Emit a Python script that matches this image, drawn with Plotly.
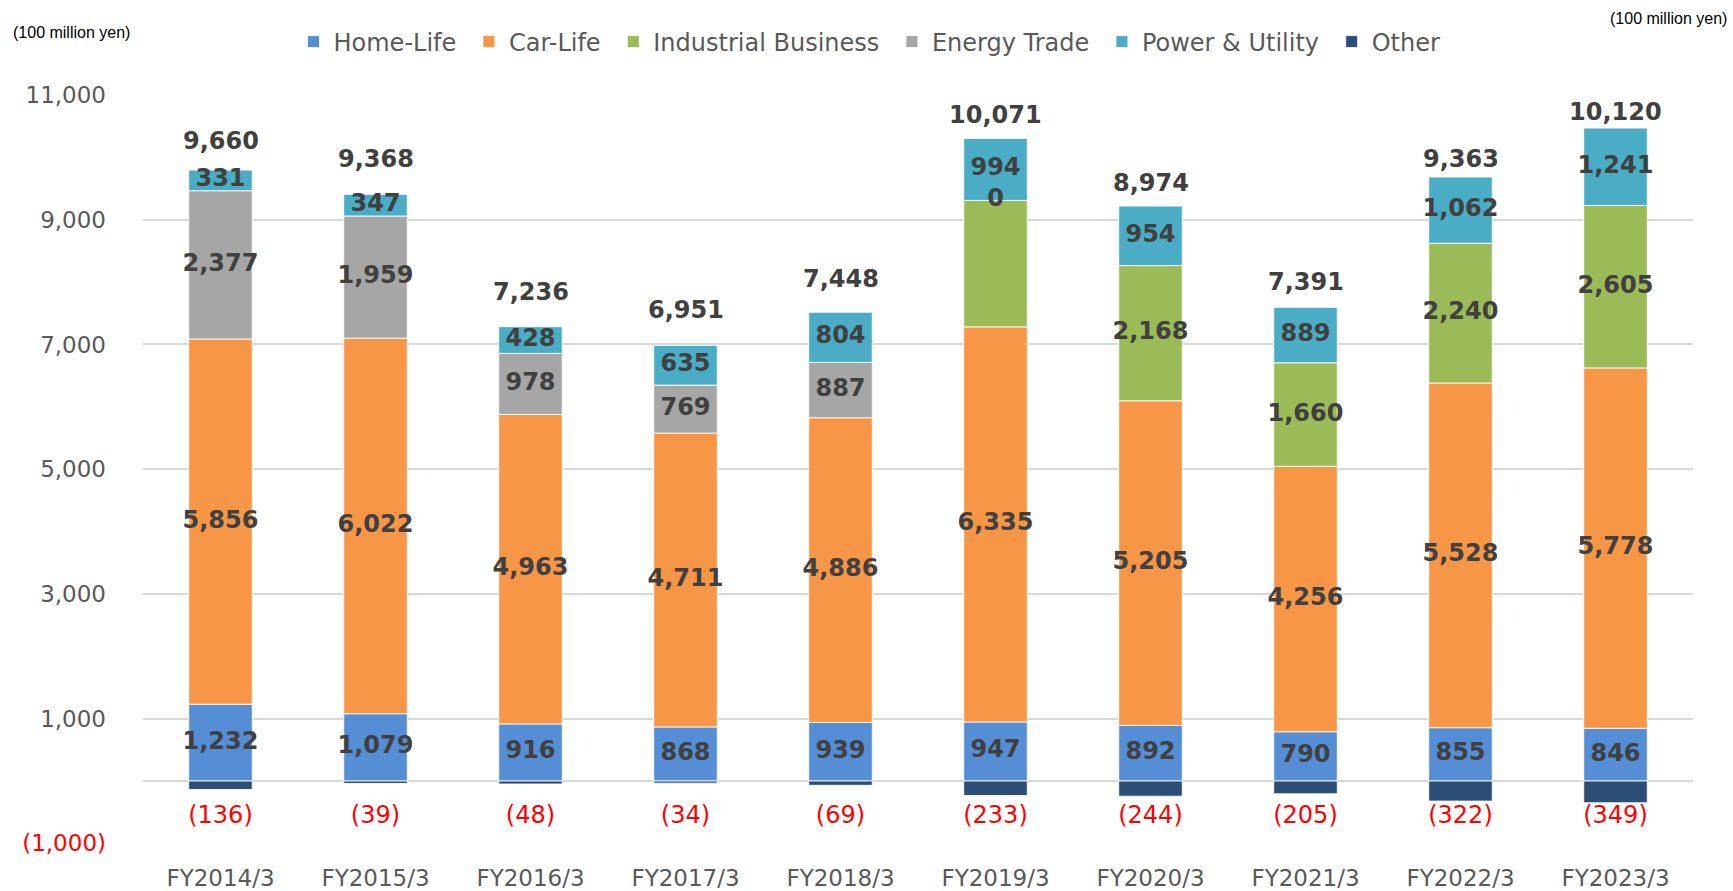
import plotly.graph_objects as go

categories = ["FY2014/3", "FY2015/3", "FY2016/3", "FY2017/3", "FY2018/3",
              "FY2019/3", "FY2020/3", "FY2021/3", "FY2022/3", "FY2023/3"]
home_life = [1232, 1079, 916, 868, 939, 947, 892, 790, 855, 846]
car_life = [5856, 6022, 4963, 4711, 4886, 6335, 5205, 4256, 5528, 5778]
industrial = [None, None, None, None, None, 2028, 2168, 1660, 2240, 2605]
industrial_label_hidden = ["FY2019/3"]
energy_trade = [2377, 1959, 978, 769, 887, 0, None, None, None, None]
power_utility = [331, 347, 428, 635, 804, 994, 954, 889, 1062, 1241]
other = [-136, -39, -48, -34, -69, -233, -244, -205, -322, -349]
totals = [9660, 9368, 7236, 6951, 7448, 10071, 8974, 7391, 9363, 10120]

y_tick_vals = [-1000, 1000, 3000, 5000, 7000, 9000, 11000]
NEG_LABEL_Y = -580

series = [
    ("Home-Life", home_life, "#558ED5"),
    ("Car-Life", car_life, "#F79646"),
    ("Industrial Business", industrial, "#9BBB59"),
    ("Energy Trade", energy_trade, "#A6A6A6"),
    ("Power & Utility", power_utility, "#4BACC6"),
    ("Other", other, "#2C4D75"),
]

FAMILY = "Verdana, DejaVu Sans, sans-serif"
LABEL_FONT = dict(family=FAMILY, size=24, color="#404040", weight="bold")
AXIS_FONT = dict(family=FAMILY, size=23, color="#595959")
LEGEND_FONT = dict(family=FAMILY, size=24, color="#595959")

# plot area in pixels
W, H = 1733, 891
L, R, T, B = 143, 40, 95, 47
PW, PH = W - L - R, H - T - B

def px_x(x):
    return (x - L) / PW

def px_y(y):
    return (H - B - y) / PH

fig = go.Figure()
for name, vals, color in series:
    fig.add_trace(go.Bar(
        x=categories, y=vals, name=name + "\u00a0",
        marker=dict(color=color, line=dict(color="rgba(255,255,255,0.85)", width=1)),
        hoverinfo="skip",
    ))

# segment labels at midpoints of positive segments
cum = [0] * len(categories)
for name, vals, color in series[:-1]:
    xs, ys, ts = [], [], []
    for i, v in enumerate(vals):
        if v is None:
            continue
        mid = cum[i] + v / 2
        cum[i] += v
        if name == "Industrial Business" and categories[i] in industrial_label_hidden:
            continue
        xs.append(categories[i]); ys.append(mid); ts.append(f"{v:,}")
    fig.add_trace(go.Scatter(x=xs, y=ys, text=ts, mode="text", textposition="middle center",
                             textfont=LABEL_FONT, showlegend=False, hoverinfo="skip"))

# negative "Other" labels
fig.add_trace(go.Scatter(x=categories, y=[NEG_LABEL_Y] * len(categories),
                         text=[f"({abs(v):,})" for v in other], mode="text",
                         textposition="middle center",
                         textfont=dict(family=FAMILY, size=24, color="#FF0000"),
                         showlegend=False, hoverinfo="skip"))

annotations = []
# totals placed above their value
for c, t in zip(categories, totals):
    annotations.append(dict(x=c, y=t, xref="x", yref="y", text=f"{t:,}", showarrow=False,
                            yanchor="middle", yshift=38, font=LABEL_FONT))

annotations += [
    dict(text="(100 million yen)", xref="paper", yref="paper", x=px_x(11), y=px_y(32),
         xanchor="left", yanchor="middle", showarrow=False,
         font=dict(family="Liberation Sans, Arial", size=16, color="#000000")),
    dict(text="(100 million yen)", xref="paper", yref="paper", x=px_x(1729), y=px_y(19),
         xanchor="right", yanchor="middle", showarrow=False,
         font=dict(family="Liberation Sans, Arial", size=16, color="#000000")),
]

def fmt_tick(v):
    if v < 0:
        return f'<span style="color:#FF0000">({abs(v):,})</span>'
    return f"{v:,}"

fig.update_layout(
    width=W, height=H,
    barmode="relative", bargap=0.59,
    plot_bgcolor="white", paper_bgcolor="white",
    margin=dict(l=L, r=R, t=T, b=B, autoexpand=False),
    font=AXIS_FONT,
    legend=dict(orientation="h", x=px_x(873), xanchor="center", y=px_y(42), yanchor="middle",
                font=LEGEND_FONT, traceorder="normal"),
    xaxis=dict(range=[-0.5, 9.5], showgrid=False, showline=False, ticks="",
               tickfont=AXIS_FONT, ticklabelstandoff=18),
    yaxis=dict(range=[-1010, 11000], tickvals=y_tick_vals,
               ticktext=[fmt_tick(v) for v in y_tick_vals],
               gridcolor="#D9D9D9", gridwidth=2, zeroline=True, zerolinecolor="#D9D9D9",
               zerolinewidth=2, showline=False, tickfont=AXIS_FONT, ticklabelstandoff=36),
    annotations=annotations,
)

fig.write_html(
    "out.html",
    config={"displayModeBar": False},
    post_script="document.body.style.margin='0';document.body.style.overflow='hidden';",
)
